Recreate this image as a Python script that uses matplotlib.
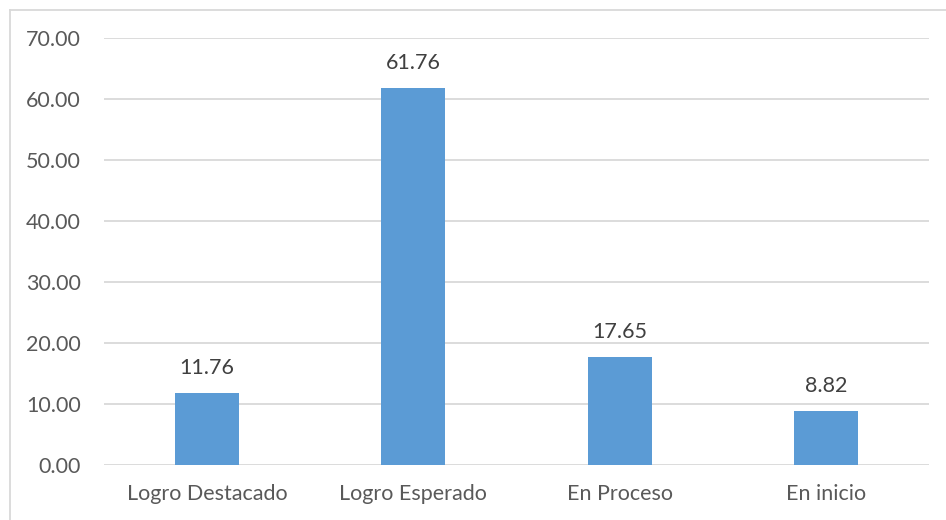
import matplotlib
matplotlib.use("Agg")
import matplotlib.pyplot as plt
from matplotlib.lines import Line2D

categories = ["Logro Destacado", "Logro Esperado", "En Proceso", "En inicio"]
values = [11.76, 61.76, 17.65, 8.82]
yticks = [0, 10, 20, 30, 40, 50, 60, 70]

plt.rcParams['font.family'] = ['Lato', 'DejaVu Sans']
W, H = 946, 520
fig = plt.figure(figsize=(W/100, H/100), dpi=100)
ax = fig.add_axes([104/W, 1-465/H, 825/W, 427/H])

x = range(len(categories))
bars = ax.bar(x, values, width=0.31, color="#5B9BD5", zorder=3)
ax.set_xlim(-0.5, len(categories)-0.5)
ax.set_ylim(0, 70)
ax.set_yticks(yticks)
ax.set_yticklabels([f"{v:.2f}" for v in yticks])
ax.set_xticks(list(x))
ax.set_xticklabels(categories)
ax.grid(axis='y', color="#D9D9D9", linewidth=1.3, zorder=0)
for s in ax.spines.values():
    s.set_visible(False)
ax.tick_params(length=0, labelsize=15.5, colors="#595959")
ax.tick_params(axis='y', pad=16.5)
ax.tick_params(axis='x', pad=14)

for xi, v in zip(x, values):
    ax.annotate(f"{v:.2f}", (xi, v), xytext=(0, 11), textcoords='offset points',
                ha='center', va='bottom', fontsize=15.5, color="#404040")

# chart border (left and top visible)
fig.add_artist(Line2D([9.5/W, 9.5/W], [0, 1-9.5/H], transform=fig.transFigure, color="#D9D9D9", lw=1.3))
fig.add_artist(Line2D([9.5/W, 1], [1-9.5/H, 1-9.5/H], transform=fig.transFigure, color="#D9D9D9", lw=1.3))

fig.savefig("out.png", dpi=100)
